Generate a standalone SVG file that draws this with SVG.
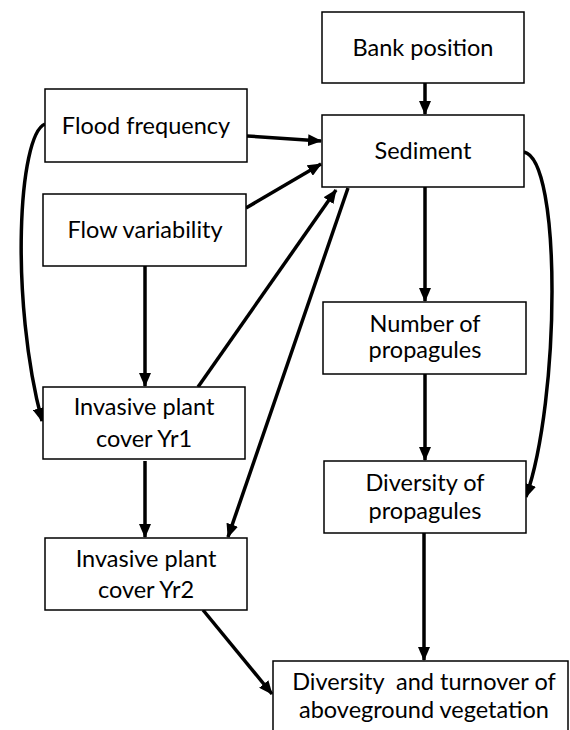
<svg xmlns="http://www.w3.org/2000/svg" width="570" height="730" viewBox="0 0 570 730">
<style>
.box{fill:#fff;stroke:#000;stroke-width:1.5}
.t{font-family:Lato,"Open Sans","Liberation Sans",sans-serif;font-size:23.5px;fill:#000;text-anchor:middle}
.c{fill:none;stroke:#000;stroke-width:3.5}
</style>
<defs>
<marker id="ah" markerUnits="userSpaceOnUse" markerWidth="14" markerHeight="12" refX="13" refY="6" orient="auto">
<path d="M0,0 L14,6 L0,12 Z" fill="#000"/>
</marker>
</defs>
<rect width="570" height="730" fill="#fff"/>
<g id="connectors">
<line class="c" x1="425" y1="83" x2="425" y2="114" marker-end="url(#ah)"/>
<line class="c" x1="247" y1="136" x2="321" y2="141" marker-end="url(#ah)"/>
<line class="c" x1="246" y1="208" x2="321" y2="164" marker-end="url(#ah)"/>
<path class="c" d="M45,124 C18,135 10,300 42,421" marker-end="url(#ah)"/>
<line class="c" x1="145" y1="266" x2="145" y2="386" marker-end="url(#ah)"/>
<line class="c" x1="198" y1="387" x2="336" y2="190" marker-end="url(#ah)"/>
<line class="c" x1="348" y1="188" x2="228" y2="537" marker-end="url(#ah)"/>
<line class="c" x1="145" y1="461" x2="145" y2="537" marker-end="url(#ah)"/>
<line class="c" x1="425" y1="187" x2="425" y2="301" marker-end="url(#ah)"/>
<line class="c" x1="425" y1="374" x2="425" y2="460" marker-end="url(#ah)"/>
<path class="c" d="M524,152 C562,160 560,400 526,497" marker-end="url(#ah)"/>
<line class="c" x1="424" y1="533" x2="424" y2="660" marker-end="url(#ah)"/>
<line class="c" x1="203" y1="610" x2="272" y2="694" marker-end="url(#ah)"/>
</g>
<g id="bank"><rect class="box" x="322" y="12" width="202" height="71"/><text class="t" x="423" y="56">Bank position</text></g>
<g id="sediment"><rect class="box" x="322" y="115" width="202" height="72"/><text class="t" x="423" y="159">Sediment</text></g>
<g id="flood"><rect class="box" x="45" y="89" width="202" height="73"/><text class="t" x="146" y="134">Flood frequency</text></g>
<g id="flow"><rect class="box" x="43" y="194" width="203" height="72"/><text class="t" x="145" y="238">Flow variability</text></g>
<g id="yr1"><rect class="box" x="43" y="387" width="202" height="72"/><text class="t" x="144" y="415">Invasive plant</text><text class="t" x="144" y="447">cover Yr1</text></g>
<g id="yr2"><rect class="box" x="45" y="538" width="202" height="72"/><text class="t" x="146" y="567">Invasive plant</text><text class="t" x="146" y="598">cover Yr2</text></g>
<g id="number"><rect class="box" x="323" y="302" width="203" height="72"/><text class="t" x="425" y="332">Number of</text><text class="t" x="425" y="358">propagules</text></g>
<g id="divprop"><rect class="box" x="324" y="461" width="202" height="72"/><text class="t" x="425" y="491">Diversity of</text><text class="t" x="425" y="519">propagules</text></g>
<g id="divveg"><rect class="box" x="273" y="661" width="295" height="80"/><text class="t" x="424" y="690" xml:space="preserve">Diversity  and turnover of</text><text class="t" x="424" y="718">aboveground vegetation</text></g>
</svg>
